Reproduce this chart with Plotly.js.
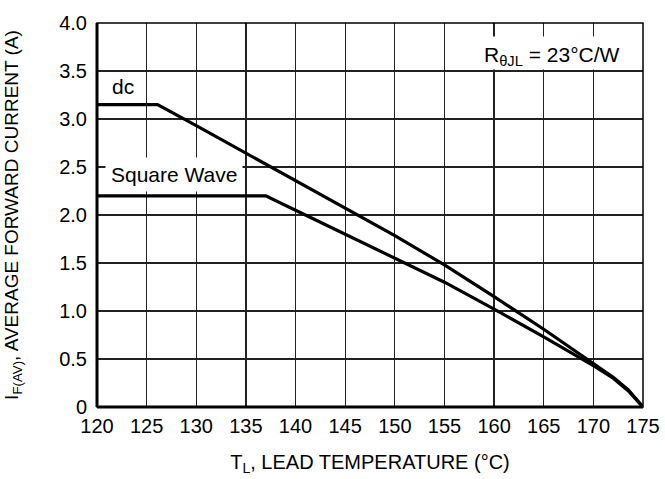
<!DOCTYPE html>
<html>
<head>
<meta charset="utf-8">
<script src="https://cdn.plot.ly/plotly-3.0.1.min.js"></script>
<style>html,body{margin:0;padding:0;background:#fff}#chart{width:665px;height:479px}</style>
</head>
<body>
<div id="chart"></div>
<script>
// Lead temperature (°C) and average forward current (A)
var dcTemp = [120, 126.1, 130, 135, 140, 145, 150, 155, 160, 165, 170, 172, 173.5, 175];
var dcCurrent = [3.15, 3.15, 2.93, 2.645, 2.36, 2.075, 1.785, 1.48, 1.15, 0.81, 0.46, 0.31, 0.18, 0];
var sqTemp = [120, 137, 140, 145, 150, 155, 160, 165, 170, 172, 173.5, 175];
var sqCurrent = [2.20, 2.20, 2.05, 1.80, 1.555, 1.30, 1.02, 0.73, 0.43, 0.30, 0.17, 0];
var xTicks = [120, 125, 130, 135, 140, 145, 150, 155, 160, 165, 170, 175];
var yTicks = [0, 0.5, 1.0, 1.5, 2.0, 2.5, 3.0, 3.5, 4.0];
var yTickText = ['0', '0.5', '1.0', '1.5', '2.0', '2.5', '3.0', '3.5', '4.0'];

var FONT = 'Liberation Sans, Arial, Helvetica, sans-serif';
var lineStyle = {color: '#000', width: 3.2};

var traces = [
  {x: dcTemp, y: dcCurrent, mode: 'lines', line: lineStyle, name: 'dc', hoverinfo: 'skip'},
  {x: sqTemp, y: sqCurrent, mode: 'lines', line: lineStyle, name: 'Square Wave', hoverinfo: 'skip'}
];

var layout = {
  width: 665, height: 479,
  margin: {l: 97, r: 22, t: 23, b: 72},
  paper_bgcolor: '#fff', plot_bgcolor: '#fff',
  showlegend: false,
  font: {family: FONT, size: 20, color: '#000'},
  xaxis: {
    range: [120, 175], tickvals: xTicks, ticktext: xTicks.map(String),
    showgrid: true, gridcolor: '#222', gridwidth: 1.3, zeroline: false,
    showline: false, ticks: '', ticklabelstandoff: 5,
    tickfont: {family: FONT, size: 20},
    title: {text: 'T<sub>L</sub>, LEAD TEMPERATURE (°C)', font: {family: FONT, size: 20}, standoff: 18}
  },
  yaxis: {
    range: [0, 4.0], tickvals: yTicks, ticktext: yTickText,
    showgrid: true, gridcolor: '#222', gridwidth: 1.3, zeroline: false,
    showline: false, ticks: '', ticklabelstandoff: 9,
    tickfont: {family: FONT, size: 20},
    title: {text: 'I<sub>F(AV)</sub>, AVERAGE FORWARD CURRENT (A)', font: {family: FONT, size: 19}, standoff: 35}
  },
  shapes: [
    {type: 'rect', xref: 'x', yref: 'y', x0: 155.1, x1: 175, y0: 3.515, y1: 3.86, fillcolor: '#fff', line: {width: 0}, layer: 'between'},
    {type: 'rect', xref: 'paper', yref: 'paper', x0: 0, x1: 1, y0: 0, y1: 1, line: {color: '#000', width: 1.5}, layer: 'above'},
    {type: 'line', xref: 'paper', yref: 'paper', x0: 0, x1: 0, y0: 0, y1: 1, line: {color: '#000', width: 3}, layer: 'above'},
    {type: 'line', xref: 'paper', yref: 'paper', x0: 0, x1: 1, y0: 0, y1: 0, line: {color: '#000', width: 3}, layer: 'above'}
  ],
  annotations: [
    {x: 122.6, y: 3.34, xref: 'x', yref: 'y', text: 'dc', showarrow: false, font: {family: FONT, size: 21}, bgcolor: '#fff', borderpad: 2},
    {x: 127.75, y: 2.42, xref: 'x', yref: 'y', text: 'Square Wave', showarrow: false, font: {family: FONT, size: 21}, bgcolor: '#fff', borderpad: 5},
    {x: 165.8, y: 3.66, xref: 'x', yref: 'y', text: 'R<sub>θJL</sub> = 23°C/W', showarrow: false, font: {family: FONT, size: 21}}
  ]
};

Plotly.newPlot('chart', traces, layout, {displayModeBar: false, staticPlot: true});
</script>
</body>
</html>
